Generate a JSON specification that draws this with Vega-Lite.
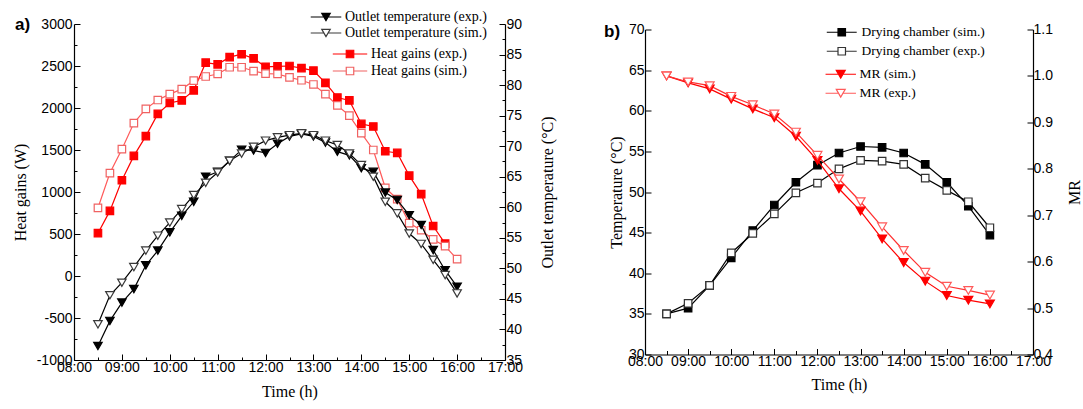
{
  "$schema": "https://vega.github.io/schema/vega-lite/v6.json",
  "padding": {"left": 12, "top": 10, "right": 3, "bottom": 5},
  "background": "white",
  "bounds": "flush",
  "center": true,
  "spacing": 140,
  "config": {
    "view": {"stroke": null},
    "axis": {"labelFont": "Liberation Sans", "labelFontSize": 14, "labelColor": "black", "titleFont": "Liberation Serif", "titleFontSize": 16, "titleFontWeight": "normal", "titleColor": "black", "domainColor": "black", "tickColor": "black", "domainWidth": 1.2, "tickWidth": 1, "grid": false, "labelOverlap": false, "labelFlush": false},
    "legend": {"padding": 0, "labelFont": "Liberation Serif", "labelFontSize": 14, "labelColor": "black", "symbolStrokeWidth": 1.2, "labelLimit": 400},
    "title": {"font": "Liberation Sans", "fontSize": 17, "fontWeight": "bold", "color": "black", "offset": 0}
  },
  "datasets": {
    "heat": [
      {"time": "2000-01-01T08:30", "series": "Heat gains (exp.)", "value": 510},
      {"time": "2000-01-01T08:45", "series": "Heat gains (exp.)", "value": 775},
      {"time": "2000-01-01T09:00", "series": "Heat gains (exp.)", "value": 1140},
      {"time": "2000-01-01T09:15", "series": "Heat gains (exp.)", "value": 1430},
      {"time": "2000-01-01T09:30", "series": "Heat gains (exp.)", "value": 1665},
      {"time": "2000-01-01T09:45", "series": "Heat gains (exp.)", "value": 1930},
      {"time": "2000-01-01T10:00", "series": "Heat gains (exp.)", "value": 2060},
      {"time": "2000-01-01T10:15", "series": "Heat gains (exp.)", "value": 2090},
      {"time": "2000-01-01T10:30", "series": "Heat gains (exp.)", "value": 2210},
      {"time": "2000-01-01T10:45", "series": "Heat gains (exp.)", "value": 2540},
      {"time": "2000-01-01T11:00", "series": "Heat gains (exp.)", "value": 2520},
      {"time": "2000-01-01T11:15", "series": "Heat gains (exp.)", "value": 2605},
      {"time": "2000-01-01T11:30", "series": "Heat gains (exp.)", "value": 2640},
      {"time": "2000-01-01T11:45", "series": "Heat gains (exp.)", "value": 2590},
      {"time": "2000-01-01T12:00", "series": "Heat gains (exp.)", "value": 2490},
      {"time": "2000-01-01T12:15", "series": "Heat gains (exp.)", "value": 2495},
      {"time": "2000-01-01T12:30", "series": "Heat gains (exp.)", "value": 2500},
      {"time": "2000-01-01T12:45", "series": "Heat gains (exp.)", "value": 2475},
      {"time": "2000-01-01T13:00", "series": "Heat gains (exp.)", "value": 2445},
      {"time": "2000-01-01T13:15", "series": "Heat gains (exp.)", "value": 2300},
      {"time": "2000-01-01T13:30", "series": "Heat gains (exp.)", "value": 2125},
      {"time": "2000-01-01T13:45", "series": "Heat gains (exp.)", "value": 2090},
      {"time": "2000-01-01T14:00", "series": "Heat gains (exp.)", "value": 1810},
      {"time": "2000-01-01T14:15", "series": "Heat gains (exp.)", "value": 1780},
      {"time": "2000-01-01T14:30", "series": "Heat gains (exp.)", "value": 1485},
      {"time": "2000-01-01T14:45", "series": "Heat gains (exp.)", "value": 1465},
      {"time": "2000-01-01T15:00", "series": "Heat gains (exp.)", "value": 1195},
      {"time": "2000-01-01T15:15", "series": "Heat gains (exp.)", "value": 975},
      {"time": "2000-01-01T15:30", "series": "Heat gains (exp.)", "value": 595},
      {"time": "2000-01-01T15:45", "series": "Heat gains (exp.)", "value": 385},
      {"time": "2000-01-01T08:30", "series": "Heat gains (sim.)", "value": 810},
      {"time": "2000-01-01T08:45", "series": "Heat gains (sim.)", "value": 1225},
      {"time": "2000-01-01T09:00", "series": "Heat gains (sim.)", "value": 1510},
      {"time": "2000-01-01T09:15", "series": "Heat gains (sim.)", "value": 1820},
      {"time": "2000-01-01T09:30", "series": "Heat gains (sim.)", "value": 1990},
      {"time": "2000-01-01T09:45", "series": "Heat gains (sim.)", "value": 2095},
      {"time": "2000-01-01T10:00", "series": "Heat gains (sim.)", "value": 2165},
      {"time": "2000-01-01T10:15", "series": "Heat gains (sim.)", "value": 2225},
      {"time": "2000-01-01T10:30", "series": "Heat gains (sim.)", "value": 2325},
      {"time": "2000-01-01T10:45", "series": "Heat gains (sim.)", "value": 2375},
      {"time": "2000-01-01T11:00", "series": "Heat gains (sim.)", "value": 2405},
      {"time": "2000-01-01T11:15", "series": "Heat gains (sim.)", "value": 2485},
      {"time": "2000-01-01T11:30", "series": "Heat gains (sim.)", "value": 2485},
      {"time": "2000-01-01T11:45", "series": "Heat gains (sim.)", "value": 2440},
      {"time": "2000-01-01T12:00", "series": "Heat gains (sim.)", "value": 2410},
      {"time": "2000-01-01T12:15", "series": "Heat gains (sim.)", "value": 2405},
      {"time": "2000-01-01T12:30", "series": "Heat gains (sim.)", "value": 2365},
      {"time": "2000-01-01T12:45", "series": "Heat gains (sim.)", "value": 2330},
      {"time": "2000-01-01T13:00", "series": "Heat gains (sim.)", "value": 2280},
      {"time": "2000-01-01T13:15", "series": "Heat gains (sim.)", "value": 2165},
      {"time": "2000-01-01T13:30", "series": "Heat gains (sim.)", "value": 2030},
      {"time": "2000-01-01T13:45", "series": "Heat gains (sim.)", "value": 1910},
      {"time": "2000-01-01T14:00", "series": "Heat gains (sim.)", "value": 1700},
      {"time": "2000-01-01T14:15", "series": "Heat gains (sim.)", "value": 1500},
      {"time": "2000-01-01T14:30", "series": "Heat gains (sim.)", "value": 1050},
      {"time": "2000-01-01T14:45", "series": "Heat gains (sim.)", "value": 915},
      {"time": "2000-01-01T15:00", "series": "Heat gains (sim.)", "value": 630},
      {"time": "2000-01-01T15:15", "series": "Heat gains (sim.)", "value": 545},
      {"time": "2000-01-01T15:30", "series": "Heat gains (sim.)", "value": 435},
      {"time": "2000-01-01T15:45", "series": "Heat gains (sim.)", "value": 355},
      {"time": "2000-01-01T16:00", "series": "Heat gains (sim.)", "value": 200}
    ],
    "outlet": [
      {"time": "2000-01-01T08:30", "series": "Outlet temperature (exp.)", "value": 37.3},
      {"time": "2000-01-01T08:45", "series": "Outlet temperature (exp.)", "value": 41.4},
      {"time": "2000-01-01T09:00", "series": "Outlet temperature (exp.)", "value": 44.4},
      {"time": "2000-01-01T09:15", "series": "Outlet temperature (exp.)", "value": 46.6},
      {"time": "2000-01-01T09:30", "series": "Outlet temperature (exp.)", "value": 50.5},
      {"time": "2000-01-01T09:45", "series": "Outlet temperature (exp.)", "value": 52.9},
      {"time": "2000-01-01T10:00", "series": "Outlet temperature (exp.)", "value": 55.9},
      {"time": "2000-01-01T10:15", "series": "Outlet temperature (exp.)", "value": 58.6},
      {"time": "2000-01-01T10:30", "series": "Outlet temperature (exp.)", "value": 60.9},
      {"time": "2000-01-01T10:45", "series": "Outlet temperature (exp.)", "value": 65.0},
      {"time": "2000-01-01T11:00", "series": "Outlet temperature (exp.)", "value": 65.8},
      {"time": "2000-01-01T11:15", "series": "Outlet temperature (exp.)", "value": 67.6},
      {"time": "2000-01-01T11:30", "series": "Outlet temperature (exp.)", "value": 69.4},
      {"time": "2000-01-01T11:45", "series": "Outlet temperature (exp.)", "value": 69.3},
      {"time": "2000-01-01T12:00", "series": "Outlet temperature (exp.)", "value": 68.9},
      {"time": "2000-01-01T12:15", "series": "Outlet temperature (exp.)", "value": 70.4},
      {"time": "2000-01-01T12:30", "series": "Outlet temperature (exp.)", "value": 71.6},
      {"time": "2000-01-01T12:45", "series": "Outlet temperature (exp.)", "value": 72.0},
      {"time": "2000-01-01T13:00", "series": "Outlet temperature (exp.)", "value": 71.6},
      {"time": "2000-01-01T13:15", "series": "Outlet temperature (exp.)", "value": 70.6},
      {"time": "2000-01-01T13:30", "series": "Outlet temperature (exp.)", "value": 69.1},
      {"time": "2000-01-01T13:45", "series": "Outlet temperature (exp.)", "value": 68.5},
      {"time": "2000-01-01T14:00", "series": "Outlet temperature (exp.)", "value": 66.4},
      {"time": "2000-01-01T14:15", "series": "Outlet temperature (exp.)", "value": 65.8},
      {"time": "2000-01-01T14:30", "series": "Outlet temperature (exp.)", "value": 62.4},
      {"time": "2000-01-01T14:45", "series": "Outlet temperature (exp.)", "value": 61.2},
      {"time": "2000-01-01T15:00", "series": "Outlet temperature (exp.)", "value": 58.7},
      {"time": "2000-01-01T15:15", "series": "Outlet temperature (exp.)", "value": 57.1},
      {"time": "2000-01-01T15:30", "series": "Outlet temperature (exp.)", "value": 53.0},
      {"time": "2000-01-01T15:45", "series": "Outlet temperature (exp.)", "value": 49.7},
      {"time": "2000-01-01T16:00", "series": "Outlet temperature (exp.)", "value": 47.0},
      {"time": "2000-01-01T08:30", "series": "Outlet temperature (sim.)", "value": 40.85},
      {"time": "2000-01-01T08:45", "series": "Outlet temperature (sim.)", "value": 45.6},
      {"time": "2000-01-01T09:00", "series": "Outlet temperature (sim.)", "value": 47.65},
      {"time": "2000-01-01T09:15", "series": "Outlet temperature (sim.)", "value": 50.2},
      {"time": "2000-01-01T09:30", "series": "Outlet temperature (sim.)", "value": 52.9},
      {"time": "2000-01-01T09:45", "series": "Outlet temperature (sim.)", "value": 55.35},
      {"time": "2000-01-01T10:00", "series": "Outlet temperature (sim.)", "value": 57.5},
      {"time": "2000-01-01T10:15", "series": "Outlet temperature (sim.)", "value": 59.7},
      {"time": "2000-01-01T10:30", "series": "Outlet temperature (sim.)", "value": 62.0},
      {"time": "2000-01-01T10:45", "series": "Outlet temperature (sim.)", "value": 64.0},
      {"time": "2000-01-01T11:00", "series": "Outlet temperature (sim.)", "value": 65.7},
      {"time": "2000-01-01T11:15", "series": "Outlet temperature (sim.)", "value": 67.6},
      {"time": "2000-01-01T11:30", "series": "Outlet temperature (sim.)", "value": 68.8},
      {"time": "2000-01-01T11:45", "series": "Outlet temperature (sim.)", "value": 69.9},
      {"time": "2000-01-01T12:00", "series": "Outlet temperature (sim.)", "value": 70.9},
      {"time": "2000-01-01T12:15", "series": "Outlet temperature (sim.)", "value": 71.45},
      {"time": "2000-01-01T12:30", "series": "Outlet temperature (sim.)", "value": 71.8},
      {"time": "2000-01-01T12:45", "series": "Outlet temperature (sim.)", "value": 72.1},
      {"time": "2000-01-01T13:00", "series": "Outlet temperature (sim.)", "value": 71.8},
      {"time": "2000-01-01T13:15", "series": "Outlet temperature (sim.)", "value": 70.9},
      {"time": "2000-01-01T13:30", "series": "Outlet temperature (sim.)", "value": 70.2},
      {"time": "2000-01-01T13:45", "series": "Outlet temperature (sim.)", "value": 68.8},
      {"time": "2000-01-01T14:00", "series": "Outlet temperature (sim.)", "value": 66.9},
      {"time": "2000-01-01T14:15", "series": "Outlet temperature (sim.)", "value": 65.0},
      {"time": "2000-01-01T14:30", "series": "Outlet temperature (sim.)", "value": 60.9},
      {"time": "2000-01-01T14:45", "series": "Outlet temperature (sim.)", "value": 59.0},
      {"time": "2000-01-01T15:00", "series": "Outlet temperature (sim.)", "value": 55.7},
      {"time": "2000-01-01T15:15", "series": "Outlet temperature (sim.)", "value": 54.0},
      {"time": "2000-01-01T15:30", "series": "Outlet temperature (sim.)", "value": 51.4},
      {"time": "2000-01-01T15:45", "series": "Outlet temperature (sim.)", "value": 48.9},
      {"time": "2000-01-01T16:00", "series": "Outlet temperature (sim.)", "value": 45.9}
    ],
    "chamber": [
      {"time": "2000-01-01T08:30", "series": "Drying chamber (sim.)", "value": 35.0},
      {"time": "2000-01-01T09:00", "series": "Drying chamber (sim.)", "value": 35.7},
      {"time": "2000-01-01T09:30", "series": "Drying chamber (sim.)", "value": 38.5},
      {"time": "2000-01-01T10:00", "series": "Drying chamber (sim.)", "value": 41.9},
      {"time": "2000-01-01T10:30", "series": "Drying chamber (sim.)", "value": 45.25},
      {"time": "2000-01-01T11:00", "series": "Drying chamber (sim.)", "value": 48.4},
      {"time": "2000-01-01T11:30", "series": "Drying chamber (sim.)", "value": 51.2},
      {"time": "2000-01-01T12:00", "series": "Drying chamber (sim.)", "value": 53.3},
      {"time": "2000-01-01T12:30", "series": "Drying chamber (sim.)", "value": 54.8},
      {"time": "2000-01-01T13:00", "series": "Drying chamber (sim.)", "value": 55.6},
      {"time": "2000-01-01T13:30", "series": "Drying chamber (sim.)", "value": 55.5},
      {"time": "2000-01-01T14:00", "series": "Drying chamber (sim.)", "value": 54.8},
      {"time": "2000-01-01T14:30", "series": "Drying chamber (sim.)", "value": 53.4},
      {"time": "2000-01-01T15:00", "series": "Drying chamber (sim.)", "value": 51.2},
      {"time": "2000-01-01T15:30", "series": "Drying chamber (sim.)", "value": 48.25},
      {"time": "2000-01-01T16:00", "series": "Drying chamber (sim.)", "value": 44.7},
      {"time": "2000-01-01T08:30", "series": "Drying chamber (exp.)", "value": 35.0},
      {"time": "2000-01-01T09:00", "series": "Drying chamber (exp.)", "value": 36.3},
      {"time": "2000-01-01T09:30", "series": "Drying chamber (exp.)", "value": 38.5},
      {"time": "2000-01-01T10:00", "series": "Drying chamber (exp.)", "value": 42.5},
      {"time": "2000-01-01T10:30", "series": "Drying chamber (exp.)", "value": 44.9},
      {"time": "2000-01-01T11:00", "series": "Drying chamber (exp.)", "value": 47.3},
      {"time": "2000-01-01T11:30", "series": "Drying chamber (exp.)", "value": 49.9},
      {"time": "2000-01-01T12:00", "series": "Drying chamber (exp.)", "value": 51.1},
      {"time": "2000-01-01T12:30", "series": "Drying chamber (exp.)", "value": 52.85},
      {"time": "2000-01-01T13:00", "series": "Drying chamber (exp.)", "value": 53.9},
      {"time": "2000-01-01T13:30", "series": "Drying chamber (exp.)", "value": 53.8},
      {"time": "2000-01-01T14:00", "series": "Drying chamber (exp.)", "value": 53.4},
      {"time": "2000-01-01T14:30", "series": "Drying chamber (exp.)", "value": 51.7},
      {"time": "2000-01-01T15:00", "series": "Drying chamber (exp.)", "value": 50.2},
      {"time": "2000-01-01T15:30", "series": "Drying chamber (exp.)", "value": 48.8},
      {"time": "2000-01-01T16:00", "series": "Drying chamber (exp.)", "value": 45.6}
    ],
    "mr": [
      {"time": "2000-01-01T08:30", "series": "MR (sim.)", "value": 1.0},
      {"time": "2000-01-01T09:00", "series": "MR (sim.)", "value": 0.985},
      {"time": "2000-01-01T09:30", "series": "MR (sim.)", "value": 0.972},
      {"time": "2000-01-01T10:00", "series": "MR (sim.)", "value": 0.95},
      {"time": "2000-01-01T10:30", "series": "MR (sim.)", "value": 0.929},
      {"time": "2000-01-01T11:00", "series": "MR (sim.)", "value": 0.91},
      {"time": "2000-01-01T11:30", "series": "MR (sim.)", "value": 0.87},
      {"time": "2000-01-01T12:00", "series": "MR (sim.)", "value": 0.818},
      {"time": "2000-01-01T12:30", "series": "MR (sim.)", "value": 0.757},
      {"time": "2000-01-01T13:00", "series": "MR (sim.)", "value": 0.709},
      {"time": "2000-01-01T13:30", "series": "MR (sim.)", "value": 0.649},
      {"time": "2000-01-01T14:00", "series": "MR (sim.)", "value": 0.598},
      {"time": "2000-01-01T14:30", "series": "MR (sim.)", "value": 0.558},
      {"time": "2000-01-01T15:00", "series": "MR (sim.)", "value": 0.527},
      {"time": "2000-01-01T15:30", "series": "MR (sim.)", "value": 0.517},
      {"time": "2000-01-01T16:00", "series": "MR (sim.)", "value": 0.509},
      {"time": "2000-01-01T08:30", "series": "MR (exp.)", "value": 1.0},
      {"time": "2000-01-01T09:00", "series": "MR (exp.)", "value": 0.987},
      {"time": "2000-01-01T09:30", "series": "MR (exp.)", "value": 0.979},
      {"time": "2000-01-01T10:00", "series": "MR (exp.)", "value": 0.956},
      {"time": "2000-01-01T10:30", "series": "MR (exp.)", "value": 0.938},
      {"time": "2000-01-01T11:00", "series": "MR (exp.)", "value": 0.918},
      {"time": "2000-01-01T11:30", "series": "MR (exp.)", "value": 0.879},
      {"time": "2000-01-01T12:00", "series": "MR (exp.)", "value": 0.829},
      {"time": "2000-01-01T12:30", "series": "MR (exp.)", "value": 0.778},
      {"time": "2000-01-01T13:00", "series": "MR (exp.)", "value": 0.729},
      {"time": "2000-01-01T13:30", "series": "MR (exp.)", "value": 0.675},
      {"time": "2000-01-01T14:00", "series": "MR (exp.)", "value": 0.624},
      {"time": "2000-01-01T14:30", "series": "MR (exp.)", "value": 0.577},
      {"time": "2000-01-01T15:00", "series": "MR (exp.)", "value": 0.547},
      {"time": "2000-01-01T15:30", "series": "MR (exp.)", "value": 0.538},
      {"time": "2000-01-01T16:00", "series": "MR (exp.)", "value": 0.528}
    ]
  },
  "hconcat": [
    {
      "width": 431,
      "height": 336,
      "title": {"text": "a)", "orient": "top", "anchor": "start", "frame": "group", "baseline": "middle", "dx": -59, "dy": 36},
      "layer": [
        {
          "data": {"name": "heat"},
          "encoding": {
            "x": {"field": "time", "type": "temporal",
              "scale": {"domain": [{"year": 2000, "month": 1, "date": 1, "hours": 8, "minutes": 0}, {"year": 2000, "month": 1, "date": 1, "hours": 17, "minutes": 0}]},
              "axis": {"title": "Time (h)", "format": "%H:%M", "tickCount": 18,
                "labelExpr": "minutes(datum.value) == 0 ? datum.label : ''",
                "tickSize": {"condition": {"test": "minutes(datum.value) == 0", "value": -6}, "value": -3},
                "labelPadding": 6, "titlePadding": 6}},
            "y": {"field": "value", "type": "quantitative",
              "scale": {"domain": [-1000, 3000], "nice": false, "zero": false},
              "axis": {"orient": "left", "title": "Heat gains (W)",
                "values": [-1000, -750, -500, -250, 0, 250, 500, 750, 1000, 1250, 1500, 1750, 2000, 2250, 2500, 2750, 3000],
                "labelExpr": "datum.value % 500 == 0 ? '' + datum.value : ''",
                "tickSize": {"condition": {"test": "datum.value % 500 == 0", "value": -6}, "value": -3},
                "labelPadding": 8, "titlePadding": 8}}
          },
          "layer": [
            {"mark": {"type": "line", "strokeWidth": 1.2},
              "encoding": {"color": {"field": "series", "type": "nominal", "scale": {"domain": ["Heat gains (sim.)", "Heat gains (exp.)"], "range": ["#ff5a5a", "#ff0000"]}, "legend": null}}},
            {"mark": {"type": "point", "shape": "square", "size": 56, "filled": true, "opacity": 1, "strokeWidth": 1.2},
              "encoding": {
                "stroke": {"field": "series", "type": "nominal", "scale": {"domain": ["Heat gains (exp.)", "Heat gains (sim.)"], "range": ["#ff0000", "#f06262"]},
                  "legend": {"orient": "none", "legendX": 269, "legendY": 23, "title": null, "symbolType": "M-4.6,0H-1M1,0H4.6M-1,-1H1V1H-1Z", "symbolSize": 56, "labelOffset": 14, "rowPadding": 3}},
                "fill": {"field": "series", "type": "nominal", "scale": {"domain": ["Heat gains (exp.)", "Heat gains (sim.)"], "range": ["#ff0000", "#ffffff"]},
                  "legend": {"orient": "none", "legendX": 269, "legendY": 23, "title": null, "symbolType": "M-4.6,0H-1M1,0H4.6M-1,-1H1V1H-1Z", "symbolSize": 56, "labelOffset": 14, "rowPadding": 3}}
              }}
          ]
        },
        {
          "data": {"name": "outlet"},
          "encoding": {
            "x": {"field": "time", "type": "temporal", "axis": null},
            "y": {"field": "value", "type": "quantitative",
              "scale": {"domain": [35, 90], "nice": false, "zero": false},
              "axis": {"orient": "right", "title": "Outlet temperature (°C)", "titleAngle": -90, "titleBaseline": "top",
                "values": [35, 37.5, 40, 42.5, 45, 47.5, 50, 52.5, 55, 57.5, 60, 62.5, 65, 67.5, 70, 72.5, 75, 77.5, 80, 82.5, 85, 87.5, 90],
                "labelExpr": "datum.value % 5 == 0 ? '' + datum.value : ''",
                "tickSize": {"condition": {"test": "datum.value % 5 == 0", "value": -6}, "value": -3},
                "labelPadding": 7, "titlePadding": 18}}
          },
          "layer": [
            {"mark": {"type": "line", "strokeWidth": 1.2},
              "encoding": {"color": {"field": "series", "type": "nominal", "scale": {"domain": ["Outlet temperature (sim.)", "Outlet temperature (exp.)"], "range": ["#000000", "#000000"]}, "legend": null}}},
            {"mark": {"type": "point", "shape": "triangle-down", "size": 72, "filled": true, "opacity": 1, "strokeWidth": 1.2},
              "encoding": {
                "stroke": {"field": "series", "type": "nominal", "scale": {"domain": ["Outlet temperature (exp.)", "Outlet temperature (sim.)"], "range": ["#000000", "#3a3a3a"]},
                  "legend": {"orient": "none", "legendX": 245, "legendY": -14, "title": null, "symbolType": "M-3.6,0H-0.55M0.55,0H3.6M0,0.866L-1,-0.866L1,-0.866Z", "symbolSize": 72, "labelOffset": 12, "rowPadding": 2}},
                "fill": {"field": "series", "type": "nominal", "scale": {"domain": ["Outlet temperature (exp.)", "Outlet temperature (sim.)"], "range": ["#000000", "#ffffff"]},
                  "legend": {"orient": "none", "legendX": 245, "legendY": -14, "title": null, "symbolType": "M-3.6,0H-0.55M0.55,0H3.6M0,0.866L-1,-0.866L1,-0.866Z", "symbolSize": 72, "labelOffset": 12, "rowPadding": 2}}
              }}
          ]
        }
      ],
      "resolve": {"scale": {"y": "independent", "color": "independent", "stroke": "independent", "fill": "independent"}, "axis": {"x": "independent", "y": "independent"}}
    },
    {
      "width": 388,
      "height": 325,
      "title": {"text": "b)", "orient": "top", "anchor": "start", "frame": "group", "baseline": "middle", "dx": -41, "dy": 30.5},
      "layer": [
        {
          "data": {"name": "chamber"},
          "encoding": {
            "x": {"field": "time", "type": "temporal",
              "scale": {"domain": [{"year": 2000, "month": 1, "date": 1, "hours": 8, "minutes": 0}, {"year": 2000, "month": 1, "date": 1, "hours": 17, "minutes": 0}]},
              "axis": {"title": "Time (h)", "format": "%H:%M", "tickCount": 18,
                "labelExpr": "minutes(datum.value) == 0 ? datum.label : ''",
                "tickSize": {"condition": {"test": "minutes(datum.value) == 0", "value": -6}, "value": -4},
                "labelPadding": 6, "titlePadding": 6}},
            "y": {"field": "value", "type": "quantitative",
              "scale": {"domain": [30, 70], "nice": false, "zero": false},
              "axis": {"orient": "left", "title": "Temperature (°C)",
                "values": [30, 35, 40, 45, 50, 55, 60, 65, 70],
                "tickSize": -6,
                "labelPadding": 7, "titlePadding": 4}}
          },
          "layer": [
            {"mark": {"type": "line", "strokeWidth": 1.2},
              "encoding": {"color": {"field": "series", "type": "nominal", "scale": {"domain": ["Drying chamber (exp.)", "Drying chamber (sim.)"], "range": ["#000000", "#000000"]}, "legend": null}}},
            {"mark": {"type": "point", "shape": "square", "size": 56, "filled": true, "opacity": 1, "strokeWidth": 1.2},
              "encoding": {
                "stroke": {"field": "series", "type": "nominal", "scale": {"domain": ["Drying chamber (sim.)", "Drying chamber (exp.)"], "range": ["#000000", "#333333"]},
                  "legend": {"orient": "none", "legendX": 190, "legendY": -4, "title": null, "symbolType": "M-4,0H-1M1,0H4M-1,-1H1V1H-1Z", "symbolSize": 56, "labelOffset": 13, "rowPadding": 4, "labelFontSize": 13.5}},
                "fill": {"field": "series", "type": "nominal", "scale": {"domain": ["Drying chamber (sim.)", "Drying chamber (exp.)"], "range": ["#000000", "#ffffff"]},
                  "legend": {"orient": "none", "legendX": 190, "legendY": -4, "title": null, "symbolType": "M-4,0H-1M1,0H4M-1,-1H1V1H-1Z", "symbolSize": 56, "labelOffset": 13, "rowPadding": 4, "labelFontSize": 13.5}}
              }}
          ]
        },
        {
          "data": {"name": "mr"},
          "encoding": {
            "x": {"field": "time", "type": "temporal", "axis": null},
            "y": {"field": "value", "type": "quantitative",
              "scale": {"domain": [0.4, 1.1], "nice": false, "zero": false},
              "axis": {"orient": "right", "title": "MR", "titleAngle": -90, "titleBaseline": "top",
                "values": [0.4, 0.5, 0.6, 0.7, 0.8, 0.9, 1.0, 1.1],
                "format": ".1f",
                "tickSize": -6,
                "labelPadding": 6, "titlePadding": 14}}
          },
          "layer": [
            {"mark": {"type": "line", "strokeWidth": 1.2},
              "encoding": {"color": {"field": "series", "type": "nominal", "scale": {"domain": ["MR (exp.)", "MR (sim.)"], "range": ["#ff3030", "#ff0000"]}, "legend": null}}},
            {"mark": {"type": "point", "shape": "triangle-down", "size": 80, "filled": true, "opacity": 1, "strokeWidth": 1.2},
              "encoding": {
                "stroke": {"field": "series", "type": "nominal", "scale": {"domain": ["MR (sim.)", "MR (exp.)"], "range": ["#ff0000", "#ff5a5a"]},
                  "legend": {"orient": "none", "legendX": 189, "legendY": 38, "title": null, "symbolType": "M-3.4,0H-0.55M0.55,0H3.4M0,0.866L-1,-0.866L1,-0.866Z", "symbolSize": 80, "labelOffset": 12, "rowPadding": 4, "labelFontSize": 13.5}},
                "fill": {"field": "series", "type": "nominal", "scale": {"domain": ["MR (sim.)", "MR (exp.)"], "range": ["#ff0000", "#ffffff"]},
                  "legend": {"orient": "none", "legendX": 189, "legendY": 38, "title": null, "symbolType": "M-3.4,0H-0.55M0.55,0H3.4M0,0.866L-1,-0.866L1,-0.866Z", "symbolSize": 80, "labelOffset": 12, "rowPadding": 4, "labelFontSize": 13.5}}
              }}
          ]
        }
      ],
      "resolve": {"scale": {"y": "independent", "color": "independent", "stroke": "independent", "fill": "independent"}, "axis": {"x": "independent", "y": "independent"}}
    }
  ]
}
